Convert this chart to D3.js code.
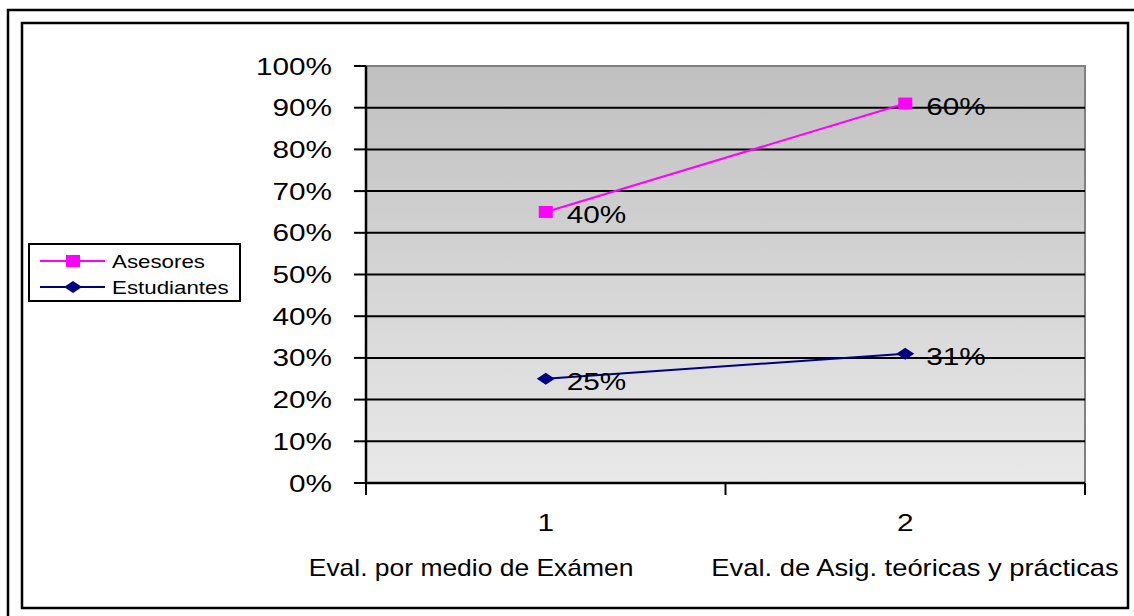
<!DOCTYPE html>
<html>
<head>
<meta charset="utf-8">
<script src="https://cdn.jsdelivr.net/npm/d3@7"></script>
<style>
  html, body { margin: 0; padding: 0; background: #fff; }
  svg { display: block; font-family: "Liberation Sans", Arial, sans-serif; }
</style>
</head>
<body>
<svg id="chart" width="1134" height="616"></svg>
<script>
// ---- data ----
const categories = ["1", "2"];
const categoryNames = ["Eval. por medio de Exámen", "Eval. de Asig. teóricas y prácticas"];
const seriesNames = ["Asesores", "Estudiantes"];
const estudiantes = [0.25, 0.31];
const asesores = [0.40, 0.60];
const yTicks = [0, 0.1, 0.2, 0.3, 0.4, 0.5, 0.6, 0.7, 0.8, 0.9, 1.0];

// ---- layout ----
const svg = d3.select("#chart");
const plot = { left: 366, right: 1085, top: 66, bottom: 483 };
const SX = 1.24; // horizontal stretch of the original picture

const x = d3.scaleBand().domain(categories).range([plot.left, plot.right]).padding(0);
const y = d3.scaleLinear().domain([0, 1]).range([plot.bottom, plot.top]);

// stacked (Asesores on top of Estudiantes)
const stackedRows = categories.map((c, i) => ({ cat: c, Estudiantes: estudiantes[i], Asesores: asesores[i] }));
const stack = d3.stack().keys(["Estudiantes", "Asesores"])(stackedRows);

const colors = { Asesores: "#ff00ff", Estudiantes: "#000080" };

// outer frames
svg.append("path").attr("d", "M8,616 L8,10 L1134,10").attr("fill", "none").attr("stroke", "#000").attr("stroke-width", 2.5);
svg.append("rect").attr("x", 22).attr("y", 23).attr("width", 1106).attr("height", 585)
  .attr("fill", "#fff").attr("stroke", "#000").attr("stroke-width", 2.5);

// gradient background
const defs = svg.append("defs");
const grad = defs.append("linearGradient").attr("id", "bg").attr("x1", 0).attr("y1", 0).attr("x2", 0).attr("y2", 1);
grad.append("stop").attr("offset", "0%").attr("stop-color", "#c0c0c0");
grad.append("stop").attr("offset", "100%").attr("stop-color", "#e9e9e9");

svg.append("rect").attr("x", plot.left).attr("y", plot.top)
  .attr("width", plot.right - plot.left).attr("height", plot.bottom - plot.top)
  .attr("fill", "url(#bg)").attr("stroke", "#808080").attr("stroke-width", 2);

// gridlines
svg.append("g").selectAll("line").data(yTicks.filter(d => d > 0 && d < 1)).join("line")
  .attr("x1", plot.left).attr("x2", plot.right)
  .attr("y1", d => y(d)).attr("y2", d => y(d))
  .attr("stroke", "#000").attr("stroke-width", 2);

// helper for stretched text
function stext(g, tx, ty, txt, size, anchor, sx) {
  return g.append("text")
    .attr("transform", `translate(${tx},${ty}) scale(${sx || SX},1)`)
    .attr("text-anchor", anchor || "start")
    .attr("font-size", size)
    .attr("fill", "#000")
    .text(txt);
}

// y axis
const yAxis = svg.append("g");
yAxis.append("line").attr("x1", plot.left).attr("x2", plot.left).attr("y1", plot.top).attr("y2", plot.bottom)
  .attr("stroke", "#000").attr("stroke-width", 2.5);
yTicks.forEach(t => {
  yAxis.append("line").attr("x1", plot.left - 12).attr("x2", plot.left).attr("y1", y(t)).attr("y2", y(t))
    .attr("stroke", "#000").attr("stroke-width", 2);
  stext(yAxis, plot.left - 34, y(t) + 8.5, d3.format(".0%")(t), 24, "end");
});

// x axis
const xAxis = svg.append("g");
xAxis.append("line").attr("x1", plot.left).attr("x2", plot.right).attr("y1", plot.bottom).attr("y2", plot.bottom)
  .attr("stroke", "#000").attr("stroke-width", 2.5);
const xTickPos = [plot.left, ...categories.slice(1).map(c => x(c)), plot.right];
xTickPos.forEach(p => {
  xAxis.append("line").attr("x1", p).attr("x2", p).attr("y1", plot.bottom).attr("y2", plot.bottom + 12)
    .attr("stroke", "#000").attr("stroke-width", 2);
});
categories.forEach((c, i) => {
  const cx = x(c) + x.bandwidth() / 2;
  stext(xAxis, cx, 531, c, 24, "middle");
});
// category descriptions
const descStart = [x("1") + x.bandwidth() / 2 - 237, x("2") + x.bandwidth() / 2 - 194];
const descStretch = [1.15, 1.19];
categoryNames.forEach((n, i) => {
  stext(xAxis, descStart[i], 576, n, 23, "start", descStretch[i]);
});

// lines and markers
const cx = c => x(c) + x.bandwidth() / 2;
function drawSeries(layer, name, raw) {
  const pts = layer.map(d => ({ cat: d.data.cat, v: d[1] }));
  const line = d3.line().x(d => cx(d.cat)).y(d => y(d.v));
  svg.append("path").datum(pts).attr("d", line)
    .attr("fill", "none").attr("stroke", colors[name]).attr("stroke-width", 2);
  pts.forEach((p, i) => {
    const px = cx(p.cat), py = y(p.v);
    if (name === "Asesores") {
      svg.append("rect").attr("x", px - 7).attr("y", py - 6).attr("width", 14).attr("height", 12).attr("fill", colors[name]);
    } else {
      svg.append("path").attr("d", `M${px - 9},${py} L${px},${py - 6} L${px + 9},${py} L${px},${py + 6} Z`).attr("fill", colors[name]);
    }
    stext(svg, px + 21, py + 11, d3.format(".0%")(raw[i]), 24, "start");
  });
}
drawSeries(stack[0], "Estudiantes", estudiantes);
drawSeries(stack[1], "Asesores", asesores);

// legend
const lg = svg.append("g");
lg.append("rect").attr("x", 29).attr("y", 244).attr("width", 211).attr("height", 57)
  .attr("fill", "#fff").attr("stroke", "#000").attr("stroke-width", 2);
seriesNames.forEach((n, i) => {
  const ly = 261 + i * 26;
  lg.append("line").attr("x1", 40).attr("x2", 105).attr("y1", ly).attr("y2", ly)
    .attr("stroke", colors[n]).attr("stroke-width", 2);
  if (n === "Asesores") {
    lg.append("rect").attr("x", 73 - 7).attr("y", ly - 6).attr("width", 14).attr("height", 12).attr("fill", colors[n]);
  } else {
    lg.append("path").attr("d", `M${73 - 9},${ly} L73,${ly - 6} L${73 + 9},${ly} L73,${ly + 6} Z`).attr("fill", colors[n]);
  }
  stext(lg, 112, ly + 6.5, n, 18, "start");
});
</script>
</body>
</html>
